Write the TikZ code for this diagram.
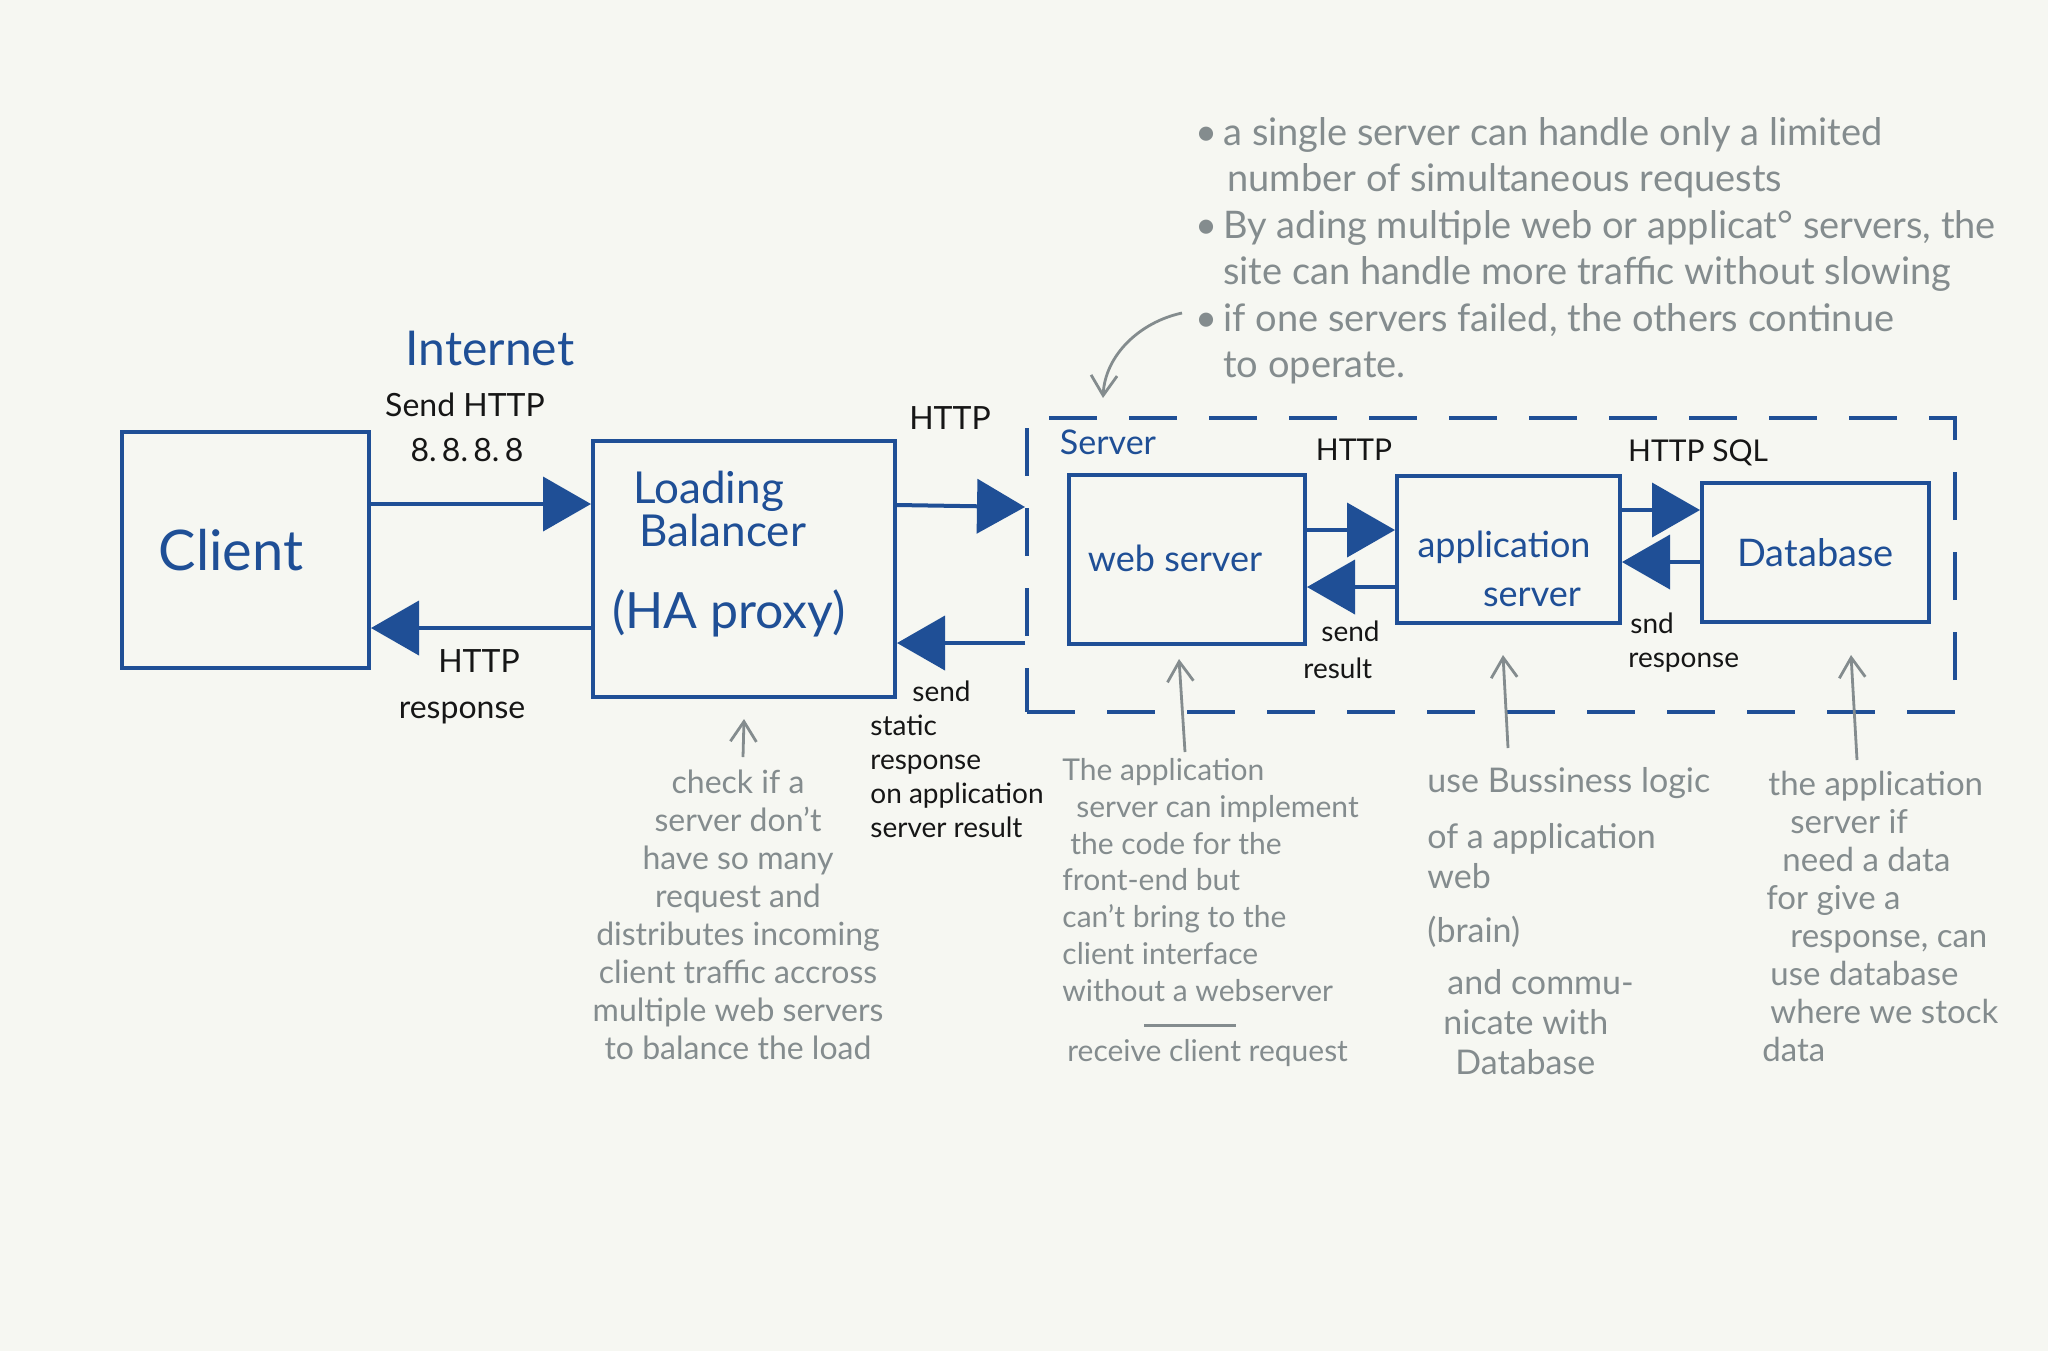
\documentclass[tikz,border=0pt]{standalone}
\usepackage{fontspec}
\setmainfont{Lato}
\usetikzlibrary{arrows.meta}
\definecolor{bg}{HTML}{F6F7F2}
\definecolor{ink}{HTML}{1F4F96}
\definecolor{notec}{HTML}{848C8E}
\definecolor{txt}{HTML}{161616}
\begin{document}
\begin{tikzpicture}[x=0.5pt,y=-0.5pt,
  box/.style={draw=ink, line width=2pt, inner sep=0pt, text=ink},
  flow/.style={draw=ink, line width=2pt, -{Triangle[length=24pt,width=27pt]}},
  pin/.style={draw=notec, line width=1.4pt, -{Straight Barb[length=10pt,width=13pt]}},
  notetext/.style={text=notec, inner sep=0pt, align=left},
  lbl/.style={text=txt, inner sep=0pt},
  bluelbl/.style={text=ink, inner sep=0pt},
]
\fill[bg] (0,0) rectangle (2048,1351);
\useasboundingbox (0,0) rectangle (2048,1351);

% boxes
\node[box, minimum width=123.5pt, minimum height=118pt] (client) at (245.5,550) {};
\node[box, minimum width=151pt, minimum height=128pt] (lb) at (744,569) {};
\node[box, dash pattern=on 24pt off 16pt, minimum width=464pt, minimum height=147pt] (server) at (1491,565) {};
\node[box, minimum width=118pt, minimum height=84.5pt] (web) at (1187,559.5) {};
\node[box, minimum width=111.5pt, minimum height=73.5pt] (app) at (1508.5,549.5) {};
\node[box, minimum width=113.5pt, minimum height=69.5pt, font=\fontsize{19}{22}\selectfont] (db) at (1815.5,552.5) {Database};

% box texts
\node[bluelbl, font=\fontsize{28}{30}\selectfont] (clienttxt) at (231,550) {Client};
\node[bluelbl, align=left, anchor=north west, font=\fontsize{22}{19.5}\selectfont] (lbtitle) at (633,471) {Loading\\\hspace*{3pt}Balancer};
\node[bluelbl, font=\fontsize{25}{28}\selectfont] (haproxy) at (729,613) {(HA proxy)};
\node[bluelbl, font=\fontsize{18}{20}\selectfont] (webtxt) at (1175,558) {web server};
\node[bluelbl, font=\fontsize{18}{20}\selectfont] (apptxt1) at (1504,547) {application};
\node[bluelbl, font=\fontsize{18}{20}\selectfont] (apptxt2) at (1532,597) {server};
\node[bluelbl, font=\fontsize{17}{20}\selectfont] (serverlbl) at (1108,442) {Server};
\node[bluelbl, font=\fontsize{24}{26}\selectfont] (internet) at (490,348) {Internet};

% connector labels
\node[lbl, font=\fontsize{16}{20}\selectfont] (sendhttp) at (465,405) {Send HTTP};
\node[lbl, font=\fontsize{16}{20}\selectfont] (ip) at (467,450) {8.\,8.\,8.\,8};
\node[lbl, font=\fontsize{16}{20}\selectfont] (http1) at (950,418) {HTTP};
\node[lbl, align=center, font=\fontsize{16}{23}\selectfont] (httpresp) at (462,687) {\hspace*{17pt}HTTP\\response};
\node[lbl, align=left, anchor=north west, font=\fontsize{14}{17}\selectfont] (sendstatic) at (870,680) {\hspace*{21pt}send\\static\\response\\on application\\server result};
\node[lbl, font=\fontsize{15}{18}\selectfont] (http2) at (1354,450) {HTTP};
\node[lbl, font=\fontsize{15}{18}\selectfont] (httpsql) at (1698,453) {HTTP SQL};
\node[lbl, align=left, anchor=north west, font=\fontsize{14}{18.5}\selectfont] (sendresult) at (1303,620) {\hspace*{9pt}send\\result};
\node[lbl, align=left, anchor=north west, font=\fontsize{14}{17}\selectfont] (sndresp) at (1628,612) {\hspace*{1pt}snd\\response};

% flows
\draw[flow] ([yshift=23pt]client.east) -- ([yshift=32.5pt]lb.west);
\draw[flow] ([yshift=-29.5pt]lb.west) -- ([yshift=-39pt]client.east);
\draw[flow] ([yshift=32pt]lb.east) -- ([yshift=29pt]server.west);
\draw[flow] ([yshift=-39pt]server.west) -- ([yshift=-37pt]lb.east);
\draw[flow] ([yshift=14.75pt]web.east) -- ([yshift=9.75pt]app.west);
\draw[flow] ([yshift=-18.75pt]app.west) -- ([yshift=-13.75pt]web.east);
\draw[flow] ([yshift=19.75pt]app.east) -- ([yshift=21.25pt]db.west);
\draw[flow] ([yshift=-4.75pt]db.west) -- ([yshift=-6.25pt]app.east);

% notes
\node[notetext, anchor=north west, font=\fontsize{19}{23.2}\selectfont] (bullets) at (1195,117)
 {\makebox[14pt][l]{•}a single server can handle only a limited\\
  \hspace*{16pt}number of simultaneous requests\\
  \makebox[14pt][l]{•}By ading multiple web or applicat° servers, the\\
  \hspace*{14pt}site can handle more traffic without slowing\\
  \makebox[14pt][l]{•}if one servers failed, the others continue\\
  \hspace*{14pt}to operate.};
\node[notetext, align=center, anchor=north, font=\fontsize{16}{19}\selectfont] (lbnote) at (738,770)
 {check if a\\server don't\\have so many\\request and\\distributes incoming\\client traffic accross\\multiple web servers\\to balance the load};
\node[notetext, anchor=north west, font=\fontsize{15}{18.4}\selectfont] (webnote) at (1062,758)
 {The application\\\hspace*{7pt}server can implement\\\hspace*{4pt}the code for the\\front-end but\\can't bring to the\\client interface\\without a webserver};
\draw[notec, line width=1.5pt] (1144,1025) -- (1236,1025);
\node[notetext, anchor=west, font=\fontsize{15}{18}\selectfont] (receive) at (1067,1053) {receive client request};
\node[notetext, anchor=north west, font=\fontsize{17}{20}\selectfont] (appnote) at (1427,767)
 {use Bussiness logic\\[8pt]of a application\\web\\[7pt](brain)\\[6pt]\hspace*{10pt}and commu-\\\hspace*{8pt}nicate with\\\hspace*{14pt}Database};
\node[notetext, anchor=north west, font=\fontsize{16.5}{19}\selectfont] (dbnote) at (1762,771)
 {\hspace*{3pt}the application\\\hspace*{14pt}server if\\\hspace*{10pt}need a data\\\hspace*{2pt}for give a\\\hspace*{14pt}response, can\\\hspace*{4pt}use database\\\hspace*{4pt}where we stock\\data};

% note pins
\coordinate (lbpin) at (743,757);
\coordinate (webpin) at (1185,752);
\coordinate (apppin) at (1508,748);
\coordinate (dbpin) at (1857,760);
\coordinate (b3) at (1182,313);
\coordinate (curveend) at (1103,398);
\draw[pin] (lbpin) -- ([yshift=-10pt]lb.south);
\draw[pin] (webpin) -- ([yshift=-6.5pt,xshift=-4pt]web.south);
\draw[pin] (apppin) -- ([yshift=-15pt,xshift=-2.75pt]app.south);
\draw[pin] (dbpin) -- ([yshift=-15.5pt,xshift=17.75pt]db.south);
\draw[pin] (b3) .. controls (1140,322) and (1105,355) .. (curveend);
\end{tikzpicture}
\end{document}
